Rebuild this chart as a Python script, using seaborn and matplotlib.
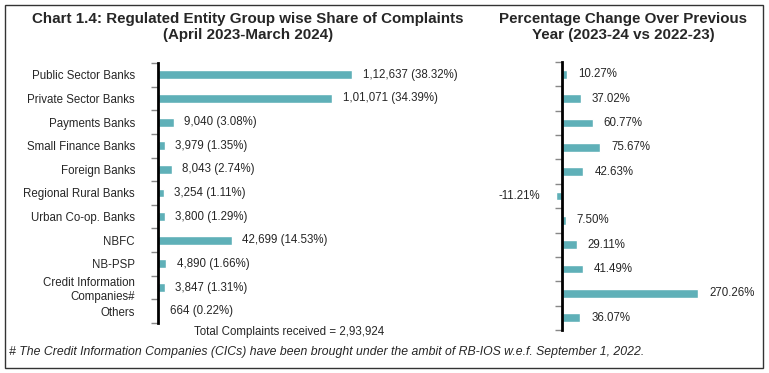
import matplotlib
matplotlib.use("Agg")
import matplotlib.pyplot as plt
import numpy as np
import pandas as pd
import seaborn as sns
from matplotlib.patches import Rectangle

# data
groups = ["Public Sector Banks", "Private Sector Banks", "Payments Banks",
          "Small Finance Banks", "Foreign Banks", "Regional Rural Banks",
          "Urban Co-op. Banks", "NBFC", "NB-PSP",
          "Credit Information\nCompanies#", "Others"]
complaints = [112637, 101071, 9040, 3979, 8043, 3254, 3800, 42699, 4890, 3847, 664]
complaint_labels = ["1,12,637 (38.32%)", "1,01,071 (34.39%)", "9,040 (3.08%)",
                    "3,979 (1.35%)", "8,043 (2.74%)", "3,254 (1.11%)",
                    "3,800 (1.29%)", "42,699 (14.53%)", "4,890 (1.66%)",
                    "3,847 (1.31%)", "664 (0.22%)"]
pct_change = [10.27, 37.02, 60.77, 75.67, 42.63, -11.21, 7.50, 29.11, 41.49, 270.26, 36.07]

df = pd.DataFrame({"group": groups, "complaints": complaints, "change": pct_change})

sns.set_style("white")
plt.rcParams["font.family"] = ["Liberation Sans", "DejaVu Sans"]

bar_color = "#5fb0b8"
fs = 8.3
W, H = 769, 373
fig = plt.figure(figsize=(W / 100, H / 100), dpi=100)


def style_axis(ax):
    for s in ["top", "right", "bottom"]:
        ax.spines[s].set_visible(False)
    ax.spines["left"].set_linewidth(2)
    ax.spines["left"].set_color("black")
    ax.set_xticks([])
    ax.set_xlabel("")
    ax.set_ylabel("")
    ax.set_ylim(len(groups) - 0.5, -0.5)
    ax.set_yticks(np.arange(-0.5, len(groups), 1), minor=True)
    ax.tick_params(axis="y", which="major", left=True, length=0)
    ax.tick_params(axis="y", which="minor", left=True, direction="out",
                   length=5, width=1, color="#888888")
    ax.set_facecolor("none")


# left panel: share of complaints
ax1 = fig.add_axes([158 / W, 1 - 323 / H, 312 / W, 260 / H])
sns.barplot(data=df, y="group", x="complaints", color=bar_color, width=0.38,
            saturation=1, ax=ax1)
ax1.set_xlim(0, 181000)
style_axis(ax1)
ax1.tick_params(axis="y", which="major", pad=16.5, labelsize=fs)
for i, (v, lab) in enumerate(zip(complaints, complaint_labels)):
    ax1.annotate(lab, (v, i), xytext=(7.5, 0), textcoords="offset points",
                 ha="left", va="center", fontsize=fs)

# right panel: percentage change
ax2 = fig.add_axes([530 / W, 1 - 330 / H, 210 / W, 268 / H])
sns.barplot(data=df, y="group", x="change", color=bar_color, width=0.36,
            saturation=1, ax=ax2)
ax2.set_xlim(-63.6, 353.9)
style_axis(ax2)
ax2.spines["left"].set_position(("data", 0))
ax2.set_yticklabels([])
for i, v in enumerate(pct_change):
    if v >= 0:
        ax2.annotate(f"{v:.2f}%", (v, i), xytext=(8, 0), textcoords="offset points",
                     ha="left", va="center", fontsize=fs)
    else:
        ax2.annotate(f"{v:.2f}%", (v, i), xytext=(-12, 0), textcoords="offset points",
                     ha="right", va="center", fontsize=fs)

# titles and notes
fig.text(248 / W, 1 - 27 / H, "Chart 1.4: Regulated Entity Group wise Share of Complaints\n(April 2023-March 2024)",
         ha="center", va="center", fontsize=10.9, fontweight="bold", linespacing=1.2)
fig.text(623 / W, 1 - 27 / H, "Percentage Change Over Previous\nYear (2023-24 vs 2022-23)",
         ha="center", va="center", fontsize=10.9, fontweight="bold", linespacing=1.2)
fig.text(289 / W, 1 - 332 / H, "Total Complaints received = 2,93,924",
         ha="center", va="center", fontsize=fs)
fig.text(9 / W, 1 - 352 / H,
         "# The Credit Information Companies (CICs) have been brought under the ambit of RB-IOS w.e.f. September 1, 2022.",
         ha="left", va="center", fontsize=8.8, style="italic")

# outer border
fig.patches.append(Rectangle((5 / W, 1 - 368 / H), 758 / W, 363 / H, transform=fig.transFigure,
                             fill=False, edgecolor="#333333", linewidth=1))

fig.savefig("out.png", dpi=100)
